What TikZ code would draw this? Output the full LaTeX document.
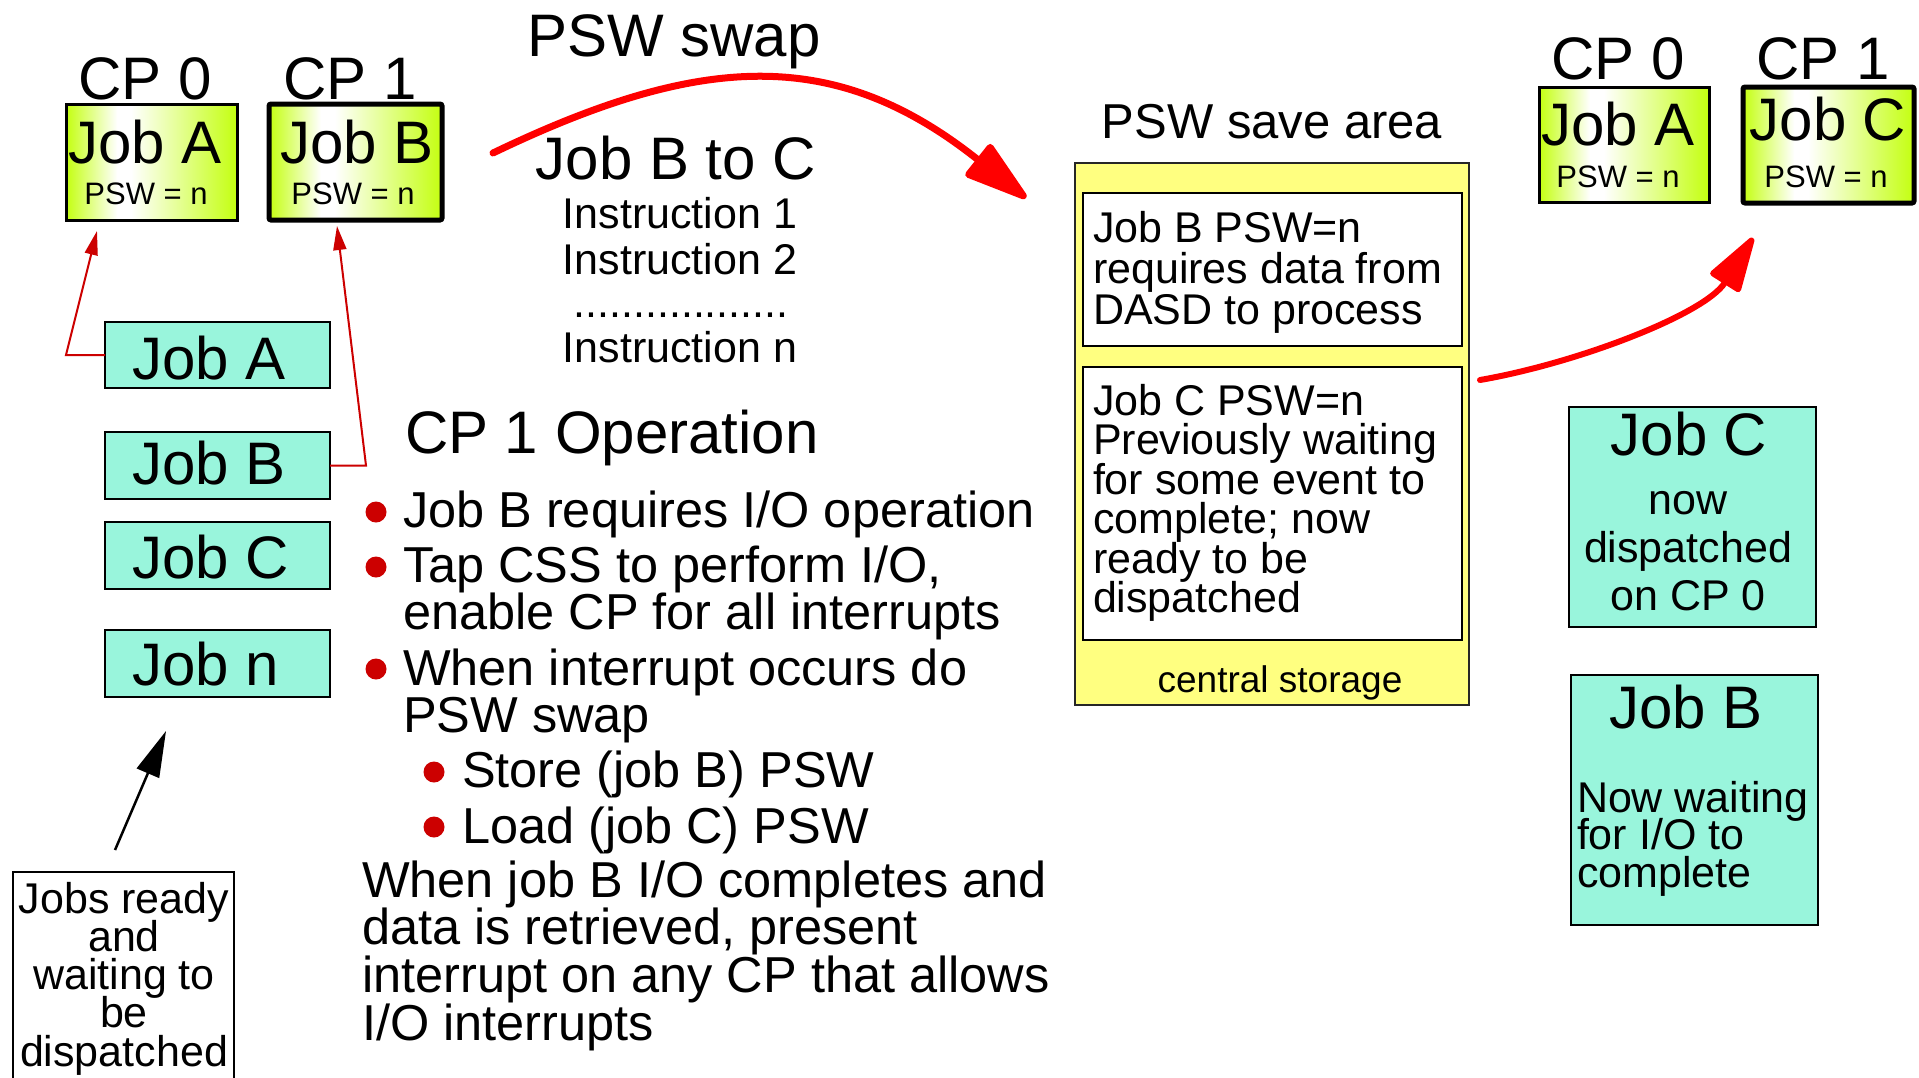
\documentclass[tikz,border=0pt]{standalone}
\usepackage{fontspec}
\setmainfont{Liberation Sans}
\usetikzlibrary{arrows.meta}
\definecolor{cpgreen}{RGB}{196,255,16}
\definecolor{jobteal}{RGB}{153,245,220}
\definecolor{saveyel}{RGB}{255,255,128}
\definecolor{drd}{RGB}{204,0,0}
\pgfdeclarehorizontalshading{cpshade}{100bp}{color(0bp)=(cpgreen); color(25bp)=(cpgreen); color(40bp)=(white); color(44bp)=(white); color(75bp)=(cpgreen); color(100bp)=(cpgreen)}
\newcommand\fsz[1]{\fontsize{#1}{#1}\selectfont}
\newcommand\Lstack[2]{\vtop{\baselineskip=#1\lineskiplimit=-1000pt\lineskip=0pt\halign{##\hfil\cr#2\crcr}}}
\newcommand\Cstack[2]{\vtop{\baselineskip=#1\lineskiplimit=-1000pt\lineskip=0pt\halign{\hfil##\hfil\cr#2\crcr}}}
\tikzset{
  txt/.style={inner sep=0pt, outer sep=0pt},
  cpbox/.style={draw=black, line width=3pt, shade, shading=cpshade, inner sep=0pt, outer sep=0pt},
  cpboxb/.style={cpbox, line width=5pt, rounded corners=2pt},
  jobbox/.style={draw=black, line width=2pt, fill=jobteal, inner sep=0pt, outer sep=0pt},
  plainbox/.style={draw=black, line width=2.5pt, fill=white, inner sep=0pt, outer sep=0pt},
  savebox/.style={draw=black!85, line width=2.5pt, fill=saveyel, inner sep=0pt, outer sep=0pt},
  thinred/.style={draw=drd, line width=2pt, -{Triangle[length=24pt,width=13pt]}},
  bigred/.style={draw=red, line width=7pt, line cap=round, -{Triangle[length=72pt,width=42pt,round]}},
  midred/.style={draw=red, line width=6pt, line cap=round, -{Triangle[length=62pt,width=36pt,round]}},
  blackarr/.style={draw=black, line width=2.5pt, -{Triangle[length=46pt,width=24pt]}},
  dot/.style={circle, fill=drd, minimum size=21pt, inner sep=0pt}
}
\begin{document}
\begin{tikzpicture}[x=1pt,y=-1pt]
\useasboundingbox (0,0) rectangle (1919,1077);
\clip (0,0) rectangle (1919,1077);
\fill[white] (0,0) rectangle (1919,1077);

% ---- top-left CPs
\node[cpbox, minimum width=171pt, minimum height=116pt] (cpAbox) at (151.5,162) {};
\node[cpboxb, minimum width=173pt, minimum height=116pt] (cpBbox) at (355.5,162) {};
\node[txt, anchor=base, font=\fsz{60}] (cp0t) at (145,99) {CP 0};
\node[txt, anchor=base, font=\fsz{60}] (cp1t) at (350,99) {CP 1};
\node[txt, anchor=base, font=\fsz{60}] (jAt) at (145,163) {Job A};
\node[txt, anchor=base, font=\fsz{31}] (pAt) at (146,204) {PSW = n};
\node[txt, anchor=base, font=\fsz{60}] (jBt) at (357,163) {Job B};
\node[txt, anchor=base, font=\fsz{31}] (pBt) at (353,204) {PSW = n};

% ---- job list
\node[jobbox, minimum width=225pt, minimum height=66pt] (la) at (217.5,355) {};
\node[jobbox, minimum width=225pt, minimum height=67pt] (lb) at (217.5,465.5) {};
\node[jobbox, minimum width=225pt, minimum height=67pt] (lc) at (217.5,555.5) {};
\node[jobbox, minimum width=225pt, minimum height=67pt] (ln) at (217.5,663.5) {};
\node[txt, anchor=base west, font=\fsz{60}] (lat) at (132,379) {Job A};
\node[txt, anchor=base west, font=\fsz{60}] (lbt) at (132,484) {Job B};
\node[txt, anchor=base west, font=\fsz{60}] (lct) at (132,578) {Job C};
\node[txt, anchor=base west, font=\fsz{60}] (lnt) at (132,685) {Job n};

\coordinate (ka) at (66,355);
\coordinate (ta) at (97,231);
\draw[thinred] (la.west) -- (ka) -- (ta);
\coordinate (kb) at (366,465.5);
\coordinate (tb) at (337,226);
\draw[thinred] (lb.east) -- (kb) -- (tb);

% ---- jobs ready
\coordinate (ba1) at (115,850);
\coordinate (ba2) at (166,731);
\draw[blackarr] (ba1) -- (ba2);
\node[plainbox, minimum width=221pt, minimum height=228pt] (ready) at (123.5,986) {};
\node[txt, anchor=base, font=\fsz{43}] (readyt) at (124,913) {\Cstack{38.3pt}{Jobs ready\cr and\cr waiting to\cr be\cr dispatched}};

% ---- PSW swap
\node[txt, anchor=base, font=\fsz{60}] (swapt) at (674,56) {PSW swap};
\coordinate (sw1) at (493,153);
\coordinate (sw2) at (1026,198);
\draw[bigred] (sw1) .. controls (701,53) and (835,46) .. (sw2);

\node[txt, anchor=base, font=\fsz{60}] (btoc) at (676,179) {Job B to C};
\node[txt, anchor=base, font=\fsz{43}] (ins1) at (680,228) {Instruction 1};
\node[txt, anchor=base, font=\fsz{43}] (ins2) at (680,274) {Instruction 2};
\node[txt, anchor=base, font=\fsz{43}] (insd) at (681,317) {..................};
\node[txt, anchor=base, font=\fsz{43}] (insn) at (680,362) {Instruction n};

% ---- CP 1 Operation
\node[txt, anchor=base west, font=\fsz{60}] (opt) at (405,453) {CP 1 Operation};
\node[dot] (d1) at (376,512) {};
\node[dot] (d2) at (376,567) {};
\node[dot] (d3) at (376,669) {};
\node[dot] (d4) at (434,772) {};
\node[dot] (d5) at (434,827) {};
\node[txt, anchor=base west, font=\fsz{50.5}] (o1) at (403,527) {Job B requires I/O operation};
\node[txt, anchor=base west, font=\fsz{50.5}] (o2) at (403,582) {\Lstack{47pt}{Tap CSS to perform I/O,\cr enable CP for all interrupts}};
\node[txt, anchor=base west, font=\fsz{50.5}] (o3) at (403,685) {\Lstack{47pt}{When interrupt occurs do\cr PSW swap}};
\node[txt, anchor=base west, font=\fsz{50.5}] (o4) at (462,787) {Store (job B) PSW};
\node[txt, anchor=base west, font=\fsz{50.5}] (o5) at (462,843) {Load (job C) PSW};
\node[txt, anchor=base west, font=\fsz{50.5}] (o6) at (362,897) {\Lstack{47.7pt}{When job B I/O completes and\cr data is retrieved, present\cr interrupt on any CP that allows\cr I/O interrupts}};

% ---- PSW save area
\node[txt, anchor=base, font=\fsz{49}] (savet) at (1272,138) {PSW save area};
\node[savebox, minimum width=394pt, minimum height=542pt] (save) at (1272,434) {};
\node[plainbox, minimum width=379pt, minimum height=153pt] (sb1) at (1272.5,269.5) {};
\node[plainbox, minimum width=379pt, minimum height=273pt] (sb2) at (1272.5,503.5) {};
\node[txt, anchor=base west, font=\fsz{43}] (sb1t) at (1093,242) {\Lstack{41pt}{Job B PSW=n\cr requires data from\cr DASD to process}};
\node[txt, anchor=base west, font=\fsz{43}] (sb2t) at (1093,415) {\Lstack{39.5pt}{Job C PSW=n\cr Previously waiting\cr for some event to\cr complete; now\cr ready to be\cr dispatched}};
\node[txt, anchor=base, font=\fsz{37}] (cst) at (1280,692) {central storage};

% ---- right CPs
\node[cpbox, minimum width=170pt, minimum height=115pt] (rcpAbox) at (1624,144.5) {};
\node[cpboxb, minimum width=171pt, minimum height=116pt] (rcpBbox) at (1828.5,145) {};
\node[txt, anchor=base, font=\fsz{60}] (rcp0t) at (1618,79) {CP 0};
\node[txt, anchor=base, font=\fsz{60}] (rcp1t) at (1823,79) {CP 1};
\node[txt, anchor=base, font=\fsz{60}] (rjAt) at (1618,145) {Job A};
\node[txt, anchor=base, font=\fsz{31}] (rpAt) at (1618,187) {PSW = n};
\node[txt, anchor=base, font=\fsz{60}] (rjCt) at (1828,140) {Job C};
\node[txt, anchor=base, font=\fsz{31}] (rpCt) at (1826,187) {PSW = n};

\coordinate (ra1) at (1480,380);
\coordinate (ra2) at (1753,238);
\draw[midred] (ra1) .. controls (1578,363) and (1705,314) .. (ra2);

% ---- right job boxes
\node[jobbox, minimum width=247pt, minimum height=220pt] (rc) at (1692.5,517) {};
\node[txt, anchor=base, font=\fsz{60}] (rct) at (1689,455) {Job C};
\node[txt, anchor=base, font=\fsz{43}] (rcd) at (1688,514) {\Cstack{48pt}{now\cr dispatched\cr on CP 0}};
\node[jobbox, minimum width=247pt, minimum height=250pt] (rb) at (1694.5,800) {};
\node[txt, anchor=base, font=\fsz{60}] (rbt) at (1686,728) {Job B};
\node[txt, anchor=base west, font=\fsz{43}] (rbd) at (1577,812) {\Lstack{37.5pt}{Now waiting\cr for I/O to\cr complete}};
\end{tikzpicture}
\end{document}
